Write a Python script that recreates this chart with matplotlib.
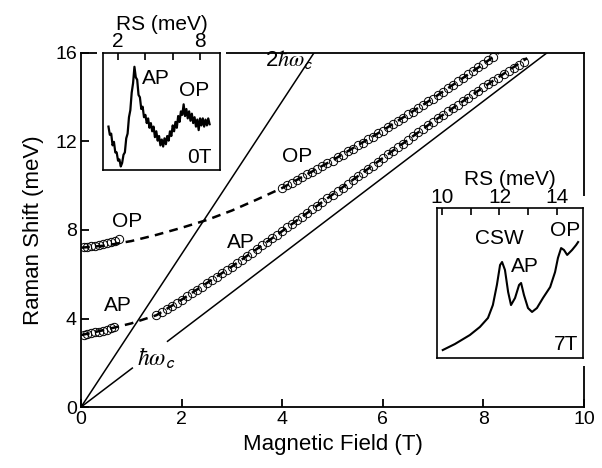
import numpy as np
import matplotlib
matplotlib.use('Agg')
import matplotlib.pyplot as plt
from matplotlib.patches import Rectangle

plt.rcParams['font.family'] = ['Liberation Sans', 'DejaVu Sans']
plt.rcParams['mathtext.fontset'] = 'stix'

# low field data (circles)
op_low_B = [0.05, 0.12, 0.20, 0.28, 0.36, 0.44, 0.52, 0.60, 0.68, 0.75]
op_low_E = [7.22, 7.24, 7.26, 7.28, 7.32, 7.36, 7.41, 7.46, 7.52, 7.58]
ap_low_B = [0.05, 0.12, 0.20, 0.28, 0.36, 0.44, 0.52, 0.60, 0.66]
ap_low_E = [3.27, 3.30, 3.33, 3.37, 3.41, 3.45, 3.50, 3.55, 3.60]

# high field OP branch
op_high_B = [4.0, 4.1, 4.2, 4.3, 4.4, 4.5, 4.6, 4.7, 4.8, 4.9, 5.0, 5.1, 5.2, 5.3,
             5.4, 5.5, 5.6, 5.7, 5.8, 5.9, 6.0, 6.1, 6.2, 6.3, 6.4, 6.5, 6.6, 6.7,
             6.8, 6.9, 7.0, 7.1, 7.2, 7.3, 7.4, 7.5, 7.6, 7.7, 7.8, 7.9, 8.0, 8.1, 8.2]
op_high_E = [9.90, 10.03, 10.13, 10.27, 10.38, 10.52, 10.63, 10.77, 10.88, 11.03,
             11.14, 11.29, 11.40, 11.55, 11.67, 11.82, 11.94, 12.09, 12.21, 12.37,
             12.49, 12.65, 12.77, 12.94, 13.06, 13.22, 13.35, 13.51, 13.64, 13.81,
             13.94, 14.11, 14.24, 14.41, 14.55, 14.72, 14.86, 15.04, 15.17, 15.35,
             15.49, 15.68, 15.82]

# high field AP branch
ap_high_B = [1.5, 1.6, 1.7, 1.8, 1.9, 2.0, 2.1, 2.2, 2.3, 2.4, 2.5, 2.6, 2.7, 2.8,
             2.9, 3.0, 3.1, 3.2, 3.3, 3.4, 3.5, 3.6, 3.7, 3.8, 3.9, 4.0, 4.1, 4.2,
             4.3, 4.4, 4.5, 4.6, 4.7, 4.8, 4.9, 5.0, 5.1, 5.2, 5.3, 5.4, 5.5, 5.6,
             5.7, 5.8, 5.9, 6.0, 6.1, 6.2, 6.3, 6.4, 6.5, 6.6, 6.7, 6.8, 6.9, 7.0,
             7.1, 7.2, 7.3, 7.4, 7.5, 7.6, 7.7, 7.8, 7.9, 8.0, 8.1, 8.2, 8.3, 8.4,
             8.5, 8.6, 8.7, 8.8]
ap_high_E = [4.15, 4.29, 4.42, 4.57, 4.70, 4.85, 5.01, 5.14, 5.31, 5.44, 5.60, 5.76,
             5.89, 6.06, 6.19, 6.35, 6.52, 6.66, 6.84, 6.98, 7.15, 7.31, 7.46, 7.64,
             7.78, 7.95, 8.12, 8.27, 8.45, 8.61, 8.77, 8.94, 9.10, 9.28, 9.43, 9.60,
             9.77, 9.92, 10.10, 10.25, 10.43, 10.58, 10.76, 10.91, 11.09, 11.25,
             11.42, 11.57, 11.75, 11.90, 12.08, 12.23, 12.41, 12.56, 12.74, 12.90,
             13.05, 13.21, 13.36, 13.52, 13.67, 13.83, 13.98, 14.14, 14.29, 14.45,
             14.59, 14.74, 14.88, 15.03, 15.17, 15.32, 15.46, 15.61]

# theory curves (dashed)
op_fit_B = [0.0, 0.5, 1.0, 1.5, 2.0, 2.5, 3.0, 3.5, 4.0, 5.0, 6.0, 7.0, 8.0, 8.3]
op_fit_E = [7.20, 7.30, 7.50, 7.78, 8.10, 8.45, 8.88, 9.38, 9.90, 11.15, 12.50, 13.95, 15.50, 16.0]
ap_fit_B = [0.0, 0.5, 1.0, 1.5, 2.0, 3.0, 4.0, 5.0, 6.0, 7.0, 8.0, 8.87]
ap_fit_E = [3.25, 3.50, 3.78, 4.15, 4.85, 6.35, 7.95, 9.60, 11.25, 12.90, 14.45, 15.77]

# cyclotron lines
hwc_B1, hwc_E1 = [0.0, 1.02], [0.0, 1.76]
hwc_B2, hwc_E2 = [1.72, 9.26], [2.97, 16.0]
hwc2_B, hwc2_E = [0.0, 4.63], [0.0, 16.0]

# inset spectra
rs0_x = [1.3, 1.4, 1.5, 1.6, 1.7, 1.8, 1.9, 2.0, 2.1, 2.2, 2.3, 2.4, 2.5, 2.6, 2.7,
         2.8, 2.9, 3.0, 3.1, 3.2, 3.3, 3.4, 3.5, 3.6, 3.7, 3.8, 3.9, 4.0, 4.1, 4.2,
         4.3, 4.4, 4.5, 4.6, 4.7, 4.8, 4.9, 5.0, 5.1, 5.2, 5.3, 5.4, 5.5, 5.6, 5.7,
         5.8, 5.9, 6.0, 6.1, 6.2, 6.3, 6.4, 6.5, 6.6, 6.7, 6.8, 6.9, 7.0, 7.1, 7.2,
         7.3, 7.4, 7.5, 7.6, 7.7, 7.8, 7.9, 8.0, 8.1, 8.2, 8.3, 8.4, 8.5, 8.6, 8.7]
rs0_y = [0.37, 0.30, 0.31, 0.21, 0.24, 0.15, 0.15, 0.08, 0.09, 0.03, 0.06, 0.13,
         0.15, 0.27, 0.31, 0.45, 0.51, 0.66, 0.74, 0.88, 0.79, 0.77, 0.64, 0.62,
         0.52, 0.54, 0.45, 0.47, 0.40, 0.44, 0.36, 0.40, 0.33, 0.37, 0.28, 0.33,
         0.25, 0.29, 0.21, 0.26, 0.20, 0.27, 0.22, 0.29, 0.25, 0.33, 0.29, 0.38,
         0.33, 0.41, 0.36, 0.46, 0.41, 0.50, 0.47, 0.56, 0.46, 0.52, 0.44, 0.50,
         0.42, 0.48, 0.40, 0.45, 0.37, 0.43, 0.34, 0.44, 0.38, 0.44, 0.37, 0.43,
         0.38, 0.44, 0.39]
rs7_x = [10.03, 10.45, 10.97, 11.32, 11.60, 11.77, 11.91, 12.02, 12.09, 12.19, 12.30,
         12.40, 12.54, 12.68, 12.75, 12.85, 12.99, 13.13, 13.30, 13.51, 13.76, 13.93,
         14.03, 14.14, 14.24, 14.35, 14.52, 14.66, 14.73]
rs7_y = [0.053, 0.093, 0.153, 0.207, 0.267, 0.353, 0.487, 0.620, 0.640, 0.587, 0.440,
         0.353, 0.400, 0.487, 0.500, 0.420, 0.333, 0.307, 0.333, 0.400, 0.473, 0.573,
         0.667, 0.733, 0.720, 0.687, 0.720, 0.753, 0.773]

fig = plt.figure(figsize=(6.02, 4.68), dpi=100)
ax = fig.add_axes([0.1346, 0.1303, 0.8355, 0.7565])

lw_ax = 1.3
for s in ax.spines.values():
    s.set_linewidth(lw_ax)

ax.plot(hwc2_B, hwc2_E, color='black', lw=1.1)
ax.plot(hwc_B1, hwc_E1, color='black', lw=1.1)
ax.plot(hwc_B2, hwc_E2, color='black', lw=1.1)
ax.plot(op_fit_B, op_fit_E, color='black', lw=1.8, dashes=(3.5, 2.5))
ax.plot(ap_fit_B, ap_fit_E, color='black', lw=1.8, dashes=(3.5, 2.5))

mk = dict(ls='none', marker='o', ms=6, mfc='none', mec='black', mew=0.7)
for bb, ee in [(op_low_B, op_low_E), (ap_low_B, ap_low_E),
               (op_high_B, op_high_E), (ap_high_B, ap_high_E)]:
    ax.plot(bb, ee, **mk)

ax.set_xlim(0, 10)
ax.set_ylim(0, 16)
ax.set_xticks([0, 2, 4, 6, 8, 10])
ax.set_yticks([0, 4, 8, 12, 16])
ax.tick_params(direction='in', length=6, width=lw_ax, labelsize=14, pad=3)
ax.set_xlabel('Magnetic Field (T)', fontsize=16, labelpad=4)
ax.set_ylabel('Raman Shift (meV)', fontsize=16, labelpad=8)

tk = dict(fontsize=15, ha='center', va='center')
ax.text(4.15, 15.7, r'2$\hbar\omega_{\mathsf{c}}$', fontsize=16, ha='center', va='center')
ax.text(1.5, 2.2, r'$\hbar\omega_{\mathsf{c}}$', fontsize=17, ha='center', va='center')
ax.text(0.91, 8.37, 'OP', **tk)
ax.text(0.74, 4.57, 'AP', **tk)
ax.text(4.29, 11.31, 'OP', **tk)
ax.text(3.18, 7.42, 'AP', **tk)

# white margins behind the insets
fig.patches.append(Rectangle((97 / 602, 1 - 176 / 468), 129 / 602, 130 / 468,
                             transform=fig.transFigure, facecolor='white',
                             edgecolor='none', zorder=1))
fig.patches.append(Rectangle((430 / 602, 1 - 366 / 468), 160 / 602, 170 / 468,
                             transform=fig.transFigure, facecolor='white',
                             edgecolor='none', zorder=1))

# inset at 0 T
ax1 = fig.add_axes([103 / 602, 1 - 170 / 468, 117 / 602, 117.3 / 468])
ax1.set_zorder(2)
ax1.plot(rs0_x, rs0_y, color='black', lw=1.6)
ax1.set_xlim(0.9, 9.46)
ax1.set_ylim(0, 1)
ax1.set_xticks([2, 4, 6, 8])
ax1.set_xticklabels(['2', '', '', '8'])
ax1.set_yticks([])
ax1.xaxis.tick_top()
ax1.xaxis.set_label_position('top')
ax1.tick_params(direction='in', length=5, width=1.2, labelsize=15, pad=1)
ax1.set_xlabel('RS (meV)', fontsize=15, labelpad=2)
for s in ax1.spines.values():
    s.set_linewidth(1.2)
ax1.text(0.45, 0.78, 'AP', transform=ax1.transAxes, **tk)
ax1.text(0.78, 0.68, 'OP', transform=ax1.transAxes, **tk)
ax1.text(0.93, 0.11, '0T', transform=ax1.transAxes, fontsize=15,
         ha='right', va='center')

# inset at 7 T
ax2 = fig.add_axes([437 / 602, 1 - 358 / 468, 146 / 602, 150 / 468])
ax2.set_zorder(2)
ax2.plot(rs7_x, rs7_y, color='black', lw=1.5)
ax2.set_xlim(9.83, 14.9)
ax2.set_ylim(0, 1)
ax2.set_xticks([10, 11, 12, 13, 14])
ax2.set_xticklabels(['10', '', '12', '', '14'])
ax2.set_yticks([])
ax2.xaxis.tick_top()
ax2.xaxis.set_label_position('top')
ax2.tick_params(direction='in', length=5, width=1.2, labelsize=15, pad=1)
ax2.set_xlabel('RS (meV)', fontsize=15, labelpad=2)
for s in ax2.spines.values():
    s.set_linewidth(1.2)
ax2.text(0.43, 0.80, 'CSW', transform=ax2.transAxes, **tk)
ax2.text(0.60, 0.61, 'AP', transform=ax2.transAxes, **tk)
ax2.text(0.88, 0.85, 'OP', transform=ax2.transAxes, **tk)
ax2.text(0.965, 0.087, '7T', transform=ax2.transAxes, fontsize=15,
         ha='right', va='center')

fig.savefig('out.png', dpi=100)
